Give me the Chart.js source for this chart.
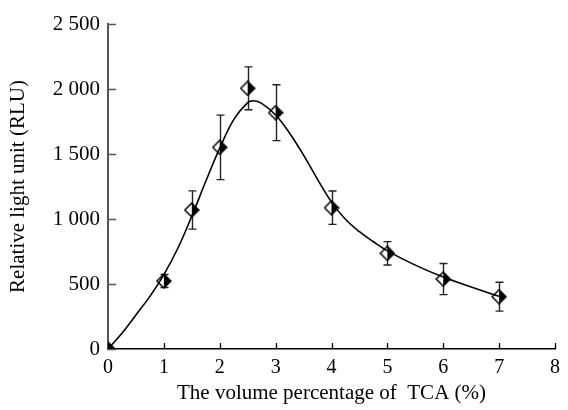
<!DOCTYPE html>
<html>
<head>
<meta charset="utf-8">
<script src="https://cdn.jsdelivr.net/npm/chart.js@4"></script>
<style>
  html, body { margin: 0; padding: 0; background: #fff; }
  #wrap { width: 568px; height: 410px; }
</style>
</head>
<body>
<div id="wrap"><canvas id="myChart" width="568" height="410"></canvas></div>
<script>
// measured points (TCA %, RLU) with error
const tcaPercent = [0, 1, 1.5, 2, 2.5, 3, 4, 5, 6, 7]
const rluMean = [0, 523, 1069, 1551, 2005, 1818, 1087, 736, 538, 402]
const rluError = [0, 50, 147, 248, 165, 215, 128, 90, 120, 111]

// fitted curve
const fitX = [0, 0.25, 0.5, 0.75, 1, 1.25, 1.5, 1.75, 2, 2.25, 2.5, 2.6, 2.75, 3, 3.25, 3.5, 3.75, 4, 4.25, 4.5, 4.75, 5, 5.5, 6, 6.5, 7]
const fitY = [0, 121, 262, 405, 572, 775, 1022, 1290, 1545, 1765, 1895, 1910, 1890, 1800, 1660, 1492, 1305, 1130, 998, 902, 825, 755, 645, 553, 477, 405]

const xTicks = [0, 1, 2, 3, 4, 5, 6, 7, 8]
const yTicks = [0, 500, 1000, 1500, 2000, 2500]

const fontFam = "'Liberation Serif', 'Times New Roman', serif"

// half filled diamond marker
function makeDiamond() {
    let c = document.createElement('canvas')
    c.width = 16
    c.height = 16
    let g = c.getContext('2d')
    g.fillStyle = '#fff'
    g.beginPath()
    g.moveTo(8, 1); g.lineTo(1, 8); g.lineTo(8, 15); g.closePath()
    g.fill()
    g.fillStyle = '#000'
    g.beginPath()
    g.moveTo(8, 1); g.lineTo(15, 8); g.lineTo(8, 15); g.closePath()
    g.fill()
    g.strokeStyle = '#000'
    g.lineWidth = 1.5
    g.beginPath()
    g.moveTo(8, 1); g.lineTo(15, 8); g.lineTo(8, 15); g.lineTo(1, 8); g.closePath()
    g.stroke()
    return c
}
const diamond = makeDiamond()

// error bars + inward ticks
const extras = {
    id: 'extras',
    beforeDatasetsDraw(chart) {
        let ctx = chart.ctx
        let xs = chart.scales.x
        let ys = chart.scales.y
        ctx.save()
        ctx.strokeStyle = '#222'
        ctx.lineWidth = 1.4
        tcaPercent.forEach(function(t, i) {
            if (!rluError[i]) return
            let px = Math.round(xs.getPixelForValue(t)) + 0.5
            let top = ys.getPixelForValue(rluMean[i] + rluError[i])
            let bot = ys.getPixelForValue(rluMean[i] - rluError[i])
            ctx.beginPath()
            ctx.moveTo(px, top); ctx.lineTo(px, bot)
            ctx.moveTo(px - 4, top); ctx.lineTo(px + 4, top)
            ctx.moveTo(px - 4, bot); ctx.lineTo(px + 4, bot)
            ctx.stroke()
        })
        ctx.restore()
    },
    afterDraw(chart) {
        let ctx = chart.ctx
        let xs = chart.scales.x
        let ys = chart.scales.y
        let area = chart.chartArea
        ctx.save()
        ctx.strokeStyle = '#000'
        ctx.lineWidth = 1.3
        ctx.beginPath()
        xTicks.forEach(function(v) {
            let px = Math.round(xs.getPixelForValue(v)) + 0.5
            ctx.moveTo(px, area.bottom); ctx.lineTo(px, area.bottom - 6)
        })
        ctx.stroke()
        ctx.strokeStyle = '#555'
        ctx.beginPath()
        yTicks.forEach(function(v) {
            let py = Math.round(ys.getPixelForValue(v)) + 0.5
            ctx.moveTo(area.left, py); ctx.lineTo(area.left + 8, py)
        })
        ctx.stroke()
        ctx.restore()
    }
}

var ctx = document.getElementById('myChart').getContext('2d')

var chart = new Chart(ctx, {
    type: 'scatter',
    data: {
        datasets: [{
            label: 'fit',
            data: fitX.map(function(x, i) { return {x: x, y: fitY[i]} }),
            showLine: true,
            borderColor: '#000',
            borderWidth: 1.6,
            pointRadius: 0,
            tension: 0.4,
            fill: false
        }, {
            label: 'RLU',
            data: tcaPercent.map(function(x, i) { return {x: x, y: rluMean[i]} }),
            pointStyle: diamond,
            pointRadius: 8,
            showLine: false
        }]
    },
    options: {
        responsive: false,
        animation: false,
        layout: { padding: { top: 24, right: 13, left: 0, bottom: 0 } },
        plugins: {
            legend: { display: false },
            tooltip: { enabled: false }
        },
        scales: {
            x: {
                type: 'linear',
                min: 0,
                max: 8,
                afterFit: function(s) { s.height = 61 },
                afterBuildTicks: function(s) { s.ticks = xTicks.map(function(v) { return {value: v} }) },
                grid: { display: false, drawTicks: false },
                border: { display: true, color: '#000', width: 1.5 },
                ticks: {
                    padding: 7,
                    color: '#000',
                    font: { family: fontFam, size: 20 }
                },
                title: {
                    display: true,
                    text: 'The volume percentage of  TCA (%)',
                    color: '#000',
                    padding: { top: 1 },
                    font: { family: fontFam, size: 21 }
                }
            },
            y: {
                min: 0,
                max: 2500,
                afterFit: function(s) { s.width = 108 },
                afterBuildTicks: function(s) { s.ticks = yTicks.map(function(v) { return {value: v} }) },
                grid: { display: false, drawTicks: false },
                border: { display: true, color: '#555', width: 2 },
                ticks: {
                    padding: 8,
                    color: '#000',
                    font: { family: fontFam, size: 21 },
                    callback: function(v) {
                        let s = String(v)
                        return s.length > 3 ? s.slice(0, s.length - 3) + ' ' + s.slice(-3) : s
                    }
                },
                title: {
                    display: true,
                    text: 'Relative light unit (RLU)',
                    color: '#000',
                    padding: { bottom: 0, top: 6 },
                    font: { family: fontFam, size: 21 }
                }
            }
        }
    },
    plugins: [extras]
})
</script>
</body>
</html>
